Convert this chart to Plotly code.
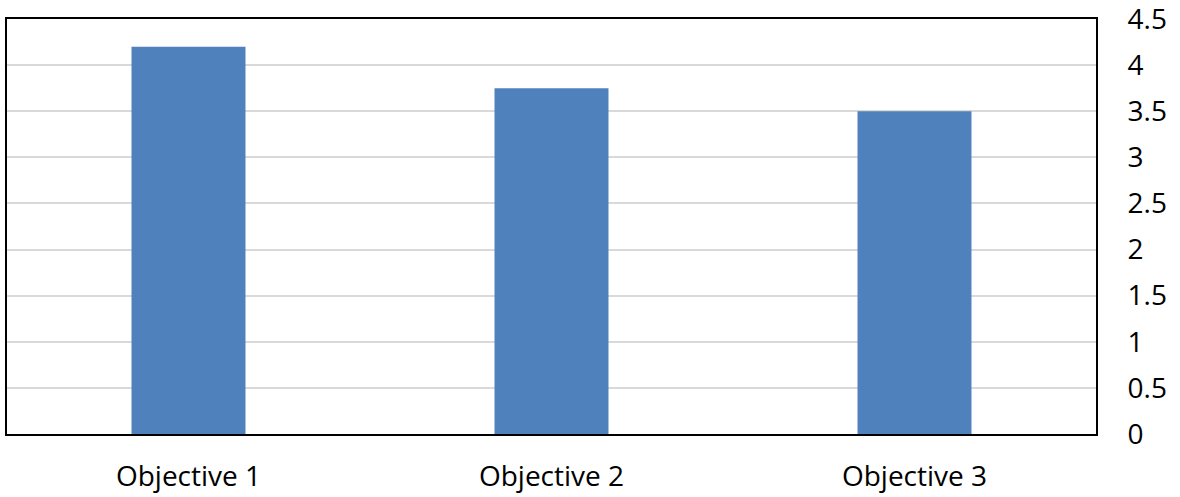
import plotly.graph_objects as go

categories = ["Objective 1", "Objective 2", "Objective 3"]
scores = [4.2, 3.75, 3.5]
y_ticks = [0, 0.5, 1, 1.5, 2, 2.5, 3, 3.5, 4, 4.5]
y_tick_labels = ["0", "0.5", "1", "1.5", "2", "2.5", "3", "3.5", "4", "4.5"]

fig = go.Figure(
    go.Bar(
        x=categories,
        y=scores,
        marker=dict(color="#4f81bd", line=dict(width=0)),
    )
)

fig.update_layout(
    width=1180,
    height=497,
    margin=dict(l=7, r=84, t=19, b=63),
    paper_bgcolor="white",
    plot_bgcolor="white",
    bargap=0.686,
    showlegend=False,
    font=dict(family="Open Sans, sans-serif", size=28, color="black"),
)

fig.update_xaxes(
    showline=True,
    linecolor="black",
    linewidth=2,
    mirror=True,
    showgrid=False,
    ticks="",
    ticklabelstandoff=16,
    automargin=False,
)

fig.update_yaxes(
    side="right",
    range=[0, 4.5000001],
    tickvals=y_ticks,
    ticktext=y_tick_labels,
    showline=True,
    linecolor="black",
    linewidth=2,
    mirror=True,
    showgrid=True,
    gridcolor="#d9d9d9",
    gridwidth=2,
    zeroline=False,
    ticks="",
    ticklabelstandoff=24,
    ticklabeloverflow="allow",
    automargin=False,
)

fig.write_html("out.html")
